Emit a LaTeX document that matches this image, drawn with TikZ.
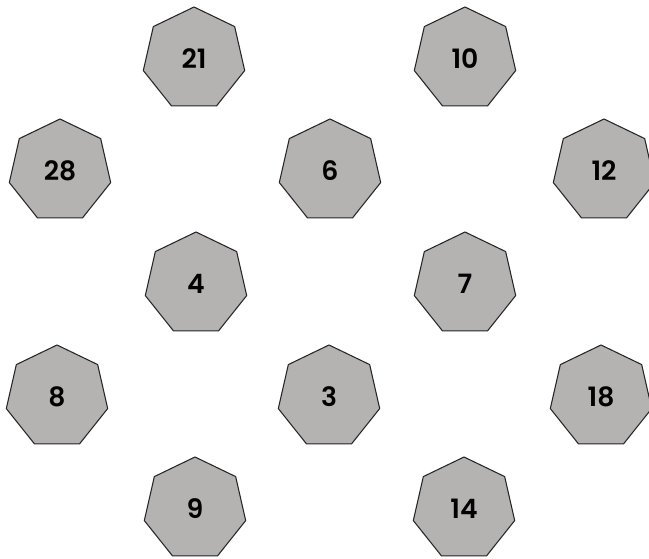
\documentclass[tikz,border=0pt]{standalone}
\usepackage{fontspec}
\setmainfont{Poppins}[UprightFont=* Medium, BoldFont=* SemiBold]
\usepackage{xcolor}
\usepackage{tikz}
\usetikzlibrary{shapes.geometric}

\definecolor{tilegrey}{RGB}{181,178,178}

\begin{document}
\begin{tikzpicture}[
          x=0.75pt, y=0.75pt,
          every node/.style={regular polygon, regular polygon sides=7, draw=black!85,
            line width=0.8pt, fill=tilegrey, minimum size=78pt, inner sep=0pt,
            font=\fontsize{20}{24}\selectfont\bfseries}
        ]
          \useasboundingbox (0,0) rectangle (649,559);
          % rows from top to bottom
          \foreach \num/\px/\py in {21/194/59, 10/465/59,
                                     28/60/171, 6/330/171, 12/604/171,
                                     4/196/284, 7/465/284,
                                     8/57/397, 3/329/397, 18/601/397,
                                     9/195/509, 14/464/509}
            \node (n\num) at (\px,559-\py) {\num};
        \end{tikzpicture}
\end{document}
